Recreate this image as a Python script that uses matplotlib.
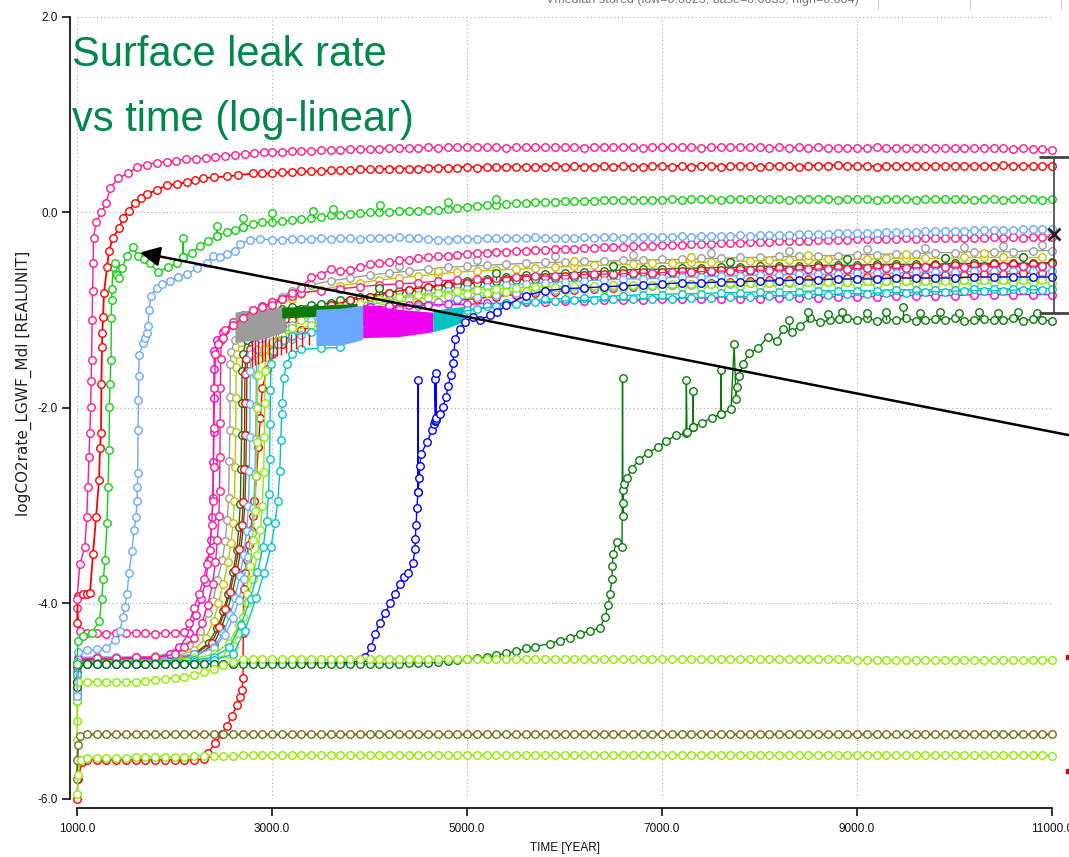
import matplotlib
matplotlib.use("Agg")
import matplotlib.pyplot as plt
from matplotlib.lines import Line2D

# ---------------------------------------------------------------- grids
YEARS_LATE = list(range(3000, 11001, 100))      # 100-year output steps
YEARS_BUNDLE = list(range(3400, 11001, 200))    # 200-year output steps
YEARS_BUNDLE_ODD = list(range(3300, 10901, 200))  # staggered 200-year steps

X_TICKS = [1000, 3000, 5000, 7000, 9000, 11000]
Y_TICKS = [-6.0, -4.0, -2.0, 0.0, 2.0]

# ---------------------------------------------------------------- upper realisations
pink_top_t = [1000, 1030, 1080, 1100, 1112, 1122, 1132, 1140, 1145, 1150, 1155, 1160, 1165, 1170,
              1195, 1250, 1300, 1340, 1420, 1520, 1620, 1720, 1820, 1920, 2020, 2120, 2220, 2320,
              2420, 2520, 2620, 2720, 2820, 2920]
pink_top_v = [-3.95, -3.6, -3.42, -3.12, -2.81, -2.5, -2.26, -1.99, -1.72, -1.51, -1.1, -0.8, -0.52, -0.26,
              -0.1, 0.0, 0.1, 0.25, 0.35, 0.4, 0.47, 0.49, 0.51, 0.52, 0.53, 0.55, 0.55, 0.56,
              0.57, 0.58, 0.59, 0.60, 0.61, 0.62]
pink_top_late = [0.62, 0.62, 0.63, 0.63, 0.63, 0.64, 0.64, 0.64, 0.65, 0.65,
                 0.65, 0.65, 0.66, 0.66, 0.66, 0.66, 0.67, 0.66, 0.67, 0.67,
                 0.67, 0.67, 0.67, 0.67, 0.66, 0.67, 0.67, 0.67, 0.67, 0.67,
                 0.67, 0.67, 0.66, 0.67, 0.67, 0.67, 0.67, 0.67, 0.66, 0.67,
                 0.67, 0.67, 0.67, 0.67, 0.66, 0.67, 0.67, 0.67, 0.67, 0.67,
                 0.67, 0.66, 0.67, 0.66, 0.67, 0.66, 0.67, 0.66, 0.66, 0.66,
                 0.66, 0.66, 0.67, 0.66, 0.66, 0.66, 0.66, 0.66, 0.66, 0.66,
                 0.66, 0.66, 0.66, 0.66, 0.66, 0.66, 0.65, 0.66, 0.65, 0.65,
                 0.64]

red_top_t = [1000, 1010, 1060, 1100, 1133, 1164, 1195, 1226, 1236, 1246,
             1250, 1256, 1260, 1267, 1277, 1308, 1328, 1369, 1431, 1472,
             1530, 1595, 1660, 1718, 1820, 1923, 2025, 2128, 2210, 2292,
             2400, 2538, 2650, 2805, 2900]
red_top_v = [-4.2, -3.92, -3.9, -3.9, -3.89, -3.49, -3.12, -2.74, -2.41, -2.26,
             -1.75, -1.38, -1.23, -1.07, -0.82, -0.56, -0.39, -0.26, -0.16, -0.06,
             0.02, 0.10, 0.15, 0.19, 0.23, 0.28, 0.29, 0.31, 0.33, 0.35,
             0.36, 0.37, 0.38, 0.40, 0.40]
red_top_late = [0.40, 0.41, 0.41, 0.42, 0.42, 0.42, 0.43, 0.43, 0.43, 0.44,
                0.44, 0.44, 0.45, 0.45, 0.45, 0.45, 0.46, 0.46, 0.46, 0.46,
                0.47, 0.46, 0.47, 0.47, 0.47, 0.47, 0.47, 0.47, 0.47, 0.48,
                0.47, 0.48, 0.47, 0.47, 0.48, 0.47, 0.48, 0.47, 0.47, 0.48,
                0.48, 0.47, 0.48, 0.47, 0.48, 0.48, 0.47, 0.48, 0.48, 0.48,
                0.47, 0.48, 0.48, 0.48, 0.47, 0.48, 0.48, 0.48, 0.49, 0.48,
                0.48, 0.48, 0.47, 0.48, 0.48, 0.48, 0.48, 0.48, 0.48, 0.48,
                0.48, 0.48, 0.48, 0.48, 0.48, 0.49, 0.48, 0.48, 0.48, 0.48,
                0.48]

green_t = [1000, 1010, 1060, 1150, 1230, 1252, 1270, 1287, 1308, 1318,
           1328, 1333, 1338, 1349, 1352, 1355, 1359, 1369, 1390, 1410,
           1431, 1462, 1513, 1574, 1626, 1690, 1749, 1831, 1933, 2026,
           2087, 2087, 2087, 2180, 2262, 2344, 2436, 2436, 2436, 2538,
           2620, 2703, 2703, 2703, 2800, 2900]
green_v = [-4.62, -4.38, -4.33, -4.30, -4.18, -3.95, -3.75, -3.56, -3.18, -2.81,
           -2.43, -1.99, -1.75, -1.51, -1.08, -0.90, -0.78, -0.56, -0.52, -0.64,
           -0.67, -0.57, -0.44, -0.35, -0.45, -0.48, -0.52, -0.61, -0.56, -0.52,
           -0.46, -0.26, -0.46, -0.41, -0.34, -0.29, -0.24, -0.14, -0.24, -0.20,
           -0.18, -0.15, -0.06, -0.15, -0.12, -0.10]
green_late = [-0.10, -0.09, -0.08, -0.07, -0.06, -0.05, -0.03, -0.03, -0.02, -0.01,
              0.00, 0.00, 0.01, 0.02, 0.02, 0.02, 0.03, 0.03, 0.04, 0.05,
              0.06, 0.07, 0.08, 0.08, 0.09, 0.10, 0.10, 0.11, 0.11, 0.11,
              0.12, 0.12, 0.12, 0.12, 0.13, 0.13, 0.13, 0.13, 0.13, 0.13,
              0.13, 0.14, 0.13, 0.14, 0.14, 0.14, 0.13, 0.14, 0.14, 0.14,
              0.14, 0.14, 0.14, 0.13, 0.14, 0.14, 0.14, 0.14, 0.13, 0.14,
              0.14, 0.14, 0.13, 0.14, 0.14, 0.14, 0.13, 0.14, 0.14, 0.14,
              0.14, 0.14, 0.13, 0.14, 0.14, 0.13, 0.14, 0.14, 0.14, 0.13,
              0.14]
green_spike_t = [3000, 3420, 3626, 4108, 4800, 5300]
green_spike_lo = [-0.10, -0.06, -0.03, 0.00, 0.05, 0.09]
green_spike_hi = [-0.01, 0.02, 0.04, 0.08, 0.11, 0.14]

sky_t = [1000, 1005, 1010, 1100, 1200, 1300, 1390, 1440, 1470, 1490,
         1513, 1533, 1564, 1585, 1605, 1615, 1620, 1623, 1626, 1630,
         1634, 1636, 1677, 1697, 1718, 1728, 1738, 1759, 1820, 1872,
         1954, 2036, 2128, 2231, 2333, 2395, 2466, 2538, 2620, 2672,
         2774, 2877]
sky_v = [-4.95, -4.60, -4.50, -4.48, -4.47, -4.46, -4.37, -4.28, -4.14, -4.04,
         -3.90, -3.69, -3.46, -3.25, -3.12, -2.95, -2.81, -2.67, -2.23, -1.92,
         -1.67, -1.46, -1.34, -1.28, -1.23, -1.16, -1.00, -0.85, -0.77, -0.73,
         -0.70, -0.66, -0.63, -0.57, -0.52, -0.44, -0.46, -0.42, -0.39, -0.32,
         -0.28, -0.27]
sky_late = [-0.28, -0.28, -0.27, -0.27, -0.27, -0.26, -0.27, -0.26, -0.26, -0.27,
            -0.26, -0.26, -0.26, -0.25, -0.26, -0.26, -0.27, -0.28, -0.28, -0.27,
            -0.27, -0.27, -0.26, -0.26, -0.26, -0.26, -0.26, -0.25, -0.26, -0.26,
            -0.26, -0.26, -0.25, -0.26, -0.25, -0.25, -0.26, -0.25, -0.25, -0.25,
            -0.25, -0.25, -0.24, -0.25, -0.24, -0.24, -0.24, -0.24, -0.23, -0.24,
            -0.23, -0.23, -0.23, -0.23, -0.22, -0.22, -0.22, -0.22, -0.21, -0.21,
            -0.21, -0.21, -0.21, -0.20, -0.20, -0.20, -0.20, -0.19, -0.19, -0.19,
            -0.19, -0.19, -0.18, -0.18, -0.18, -0.18, -0.18, -0.17, -0.17, -0.17,
            -0.17]

pink_mid_t = [1000, 1030, 1100, 1200, 1300, 1400, 1500, 1600, 1700, 1800,
              1900, 2000, 2100, 2150, 2200, 2250, 2300, 2330, 2360, 2380,
              2395, 2400, 2405, 2410, 2420, 2450, 2500, 2600, 2700, 2800,
              2900]
pink_mid_v = [-4.05, -4.28, -4.30, -4.30, -4.31, -4.30, -4.30, -4.30, -4.30, -4.31,
              -4.30, -4.30, -4.29, -4.20, -4.05, -3.90, -3.75, -3.60, -3.45, -3.20,
              -2.95, -2.60, -2.20, -1.80, -1.45, -1.35, -1.28, -1.15, -1.08, -1.00,
              -0.97]
pink_mid_late = [-0.95, -0.88, -0.82, -0.77, -0.66, -0.64, -0.58, -0.60, -0.59, -0.56,
                 -0.53, -0.52, -0.51, -0.49, -0.49, -0.47, -0.46, -0.45, -0.44, -0.43,
                 -0.42, -0.41, -0.41, -0.40, -0.40, -0.39, -0.39, -0.38, -0.38, -0.37,
                 -0.37, -0.37, -0.36, -0.36, -0.35, -0.35, -0.35, -0.34, -0.34, -0.34,
                 -0.33, -0.33, -0.33, -0.32, -0.32, -0.32, -0.31, -0.31, -0.31, -0.30,
                 -0.30, -0.30, -0.29, -0.29, -0.29, -0.29, -0.28, -0.28, -0.28, -0.28,
                 -0.27, -0.27, -0.27, -0.27, -0.27, -0.26, -0.27, -0.26, -0.26, -0.26,
                 -0.26, -0.26, -0.26, -0.26, -0.25, -0.26, -0.25, -0.26, -0.25, -0.25,
                 -0.25]

# ---------------------------------------------------------------- flat low realisations
lime_flat_t = [1000, 1010, 1100, 1200, 1300, 1400, 1500, 1600, 1700, 1800,
               1900, 2000, 2100, 2200, 2300, 2400, 2500, 2600, 2700, 2800, 2900]
lime_flat_v = [-5.00, -4.80, -4.80, -4.80, -4.80, -4.80, -4.80, -4.80, -4.79, -4.78,
               -4.77, -4.76, -4.75, -4.73, -4.70, -4.67, -4.63, -4.60, -4.57, -4.57, -4.57]
lime_flat_late = [-4.57, -4.57, -4.57, -4.57, -4.57, -4.57, -4.57, -4.57, -4.57, -4.57,
                  -4.57, -4.57, -4.57, -4.57, -4.57, -4.57, -4.57, -4.57, -4.57, -4.57,
                  -4.57, -4.57, -4.57, -4.57, -4.57, -4.57, -4.57, -4.57, -4.57, -4.57,
                  -4.57, -4.57, -4.57, -4.57, -4.57, -4.57, -4.57, -4.57, -4.57, -4.57,
                  -4.57, -4.57, -4.57, -4.57, -4.57, -4.57, -4.57, -4.57, -4.57, -4.57,
                  -4.57, -4.57, -4.57, -4.57, -4.57, -4.57, -4.57, -4.57, -4.57, -4.57,
                  -4.58, -4.58, -4.58, -4.58, -4.58, -4.58, -4.58, -4.58, -4.58, -4.58,
                  -4.58, -4.58, -4.58, -4.58, -4.58, -4.58, -4.58, -4.58, -4.58, -4.58,
                  -4.58]

olive_t = [1000, 1005, 1010, 1030, 1100, 1200, 1300, 1400, 1500, 1600, 1700, 1800,
           1900, 2000, 2100, 2200, 2300, 2400, 2500, 2600, 2700, 2800, 2900]
olive_v = [-5.80, -5.60, -5.45, -5.36, -5.34, -5.34, -5.34, -5.34, -5.34, -5.34, -5.34, -5.34,
           -5.34, -5.34, -5.34, -5.34, -5.34, -5.34, -5.34, -5.34, -5.34, -5.34, -5.34]
olive_late = [-5.34, -5.34, -5.34, -5.34, -5.34, -5.34, -5.34, -5.34, -5.34, -5.34,
              -5.34, -5.34, -5.34, -5.34, -5.34, -5.34, -5.34, -5.34, -5.34, -5.34,
              -5.34, -5.34, -5.34, -5.34, -5.34, -5.34, -5.34, -5.34, -5.34, -5.34,
              -5.34, -5.34, -5.34, -5.34, -5.34, -5.34, -5.34, -5.34, -5.34, -5.34,
              -5.34, -5.34, -5.34, -5.34, -5.34, -5.34, -5.34, -5.34, -5.34, -5.34,
              -5.34, -5.34, -5.34, -5.34, -5.34, -5.34, -5.34, -5.34, -5.34, -5.34,
              -5.34, -5.34, -5.34, -5.34, -5.34, -5.34, -5.34, -5.34, -5.34, -5.34,
              -5.34, -5.34, -5.34, -5.34, -5.34, -5.34, -5.34, -5.34, -5.34, -5.34,
              -5.34]

lime_low_t = [1000, 1010, 1040, 1100, 1200, 1300, 1400, 1500, 1600, 1700, 1800,
              1900, 2000, 2100, 2200, 2300, 2400, 2500, 2600, 2700, 2800, 2900]
lime_low_v = [-5.95, -5.75, -5.60, -5.58, -5.58, -5.58, -5.58, -5.58, -5.57, -5.57, -5.57,
              -5.57, -5.57, -5.57, -5.56, -5.56, -5.56, -5.56, -5.56, -5.55, -5.55, -5.55]
lime_low_late = [-5.55, -5.55, -5.55, -5.55, -5.55, -5.55, -5.55, -5.55, -5.55, -5.55,
                 -5.55, -5.55, -5.55, -5.55, -5.55, -5.55, -5.55, -5.55, -5.55, -5.55,
                 -5.55, -5.55, -5.55, -5.55, -5.55, -5.55, -5.55, -5.55, -5.55, -5.55,
                 -5.55, -5.55, -5.55, -5.55, -5.55, -5.55, -5.55, -5.55, -5.55, -5.55,
                 -5.55, -5.55, -5.55, -5.55, -5.55, -5.55, -5.55, -5.55, -5.55, -5.55,
                 -5.55, -5.55, -5.55, -5.55, -5.55, -5.55, -5.55, -5.55, -5.55, -5.55,
                 -5.55, -5.55, -5.55, -5.55, -5.55, -5.55, -5.55, -5.55, -5.55, -5.55,
                 -5.55, -5.55, -5.55, -5.55, -5.55, -5.55, -5.55, -5.55, -5.55, -5.55,
                 -5.56]

# ---------------------------------------------------------------- late risers
blue_t = [1000, 1010, 1100, 1200, 1300, 1400, 1500, 1600, 1700, 1800,
          1900, 2000, 2100, 2200, 2300, 2400, 2500, 2600, 2700, 2800,
          2900, 3000, 3100, 3200, 3300, 3400, 3500, 3600, 3700, 3800,
          3900,
          3953, 4015, 4057, 4108, 4159, 4210, 4262, 4313, 4354, 4395,
          4446, 4467, 4470, 4477, 4487, 4497, 4497, 4497, 4510, 4518,
          4528, 4590, 4641, 4665, 4672, 4672, 4680, 4680, 4680, 4723,
          4754, 4785, 4805, 4836, 4856, 4867, 4877, 4928, 4980, 5062,
          5133, 5236, 5308]
blue_v = [-4.80, -4.62, -4.62, -4.62, -4.62, -4.62, -4.62, -4.62, -4.62, -4.62,
          -4.62, -4.62, -4.62, -4.62, -4.62, -4.62, -4.62, -4.62, -4.61, -4.61,
          -4.61, -4.61, -4.61, -4.61, -4.61, -4.61, -4.61, -4.61, -4.61, -4.60,
          -4.59,
          -4.55, -4.45, -4.31, -4.20, -4.10, -4.00, -3.90, -3.80, -3.73, -3.69,
          -3.59, -3.44, -3.34, -3.20, -3.02, -2.86, -1.71, -2.86, -2.72, -2.59,
          -2.47, -2.35, -2.23, -2.16, -2.13, -1.70, -2.12, -1.64, -2.10, -2.06,
          -1.99, -1.89, -1.78, -1.66, -1.54, -1.44, -1.29, -1.19, -1.12, -1.07,
          -1.10, -1.05, -1.02]
blue_late_t = list(range(5400, 11001, 200))
blue_late = [-0.95, -0.85, -0.80, -0.78, -0.77, -0.76, -0.75, -0.74, -0.73, -0.72,
             -0.72, -0.71, -0.71, -0.70, -0.70, -0.69, -0.69, -0.68, -0.68, -0.68,
             -0.67, -0.67, -0.67, -0.67, -0.66, -0.66, -0.66, -0.66, -0.66]

forest_t = [1000, 1010, 1100, 1200, 1300, 1400, 1500, 1600, 1700, 1800,
            1900, 2000, 2100, 2200, 2300, 2400, 2500, 2600, 2700, 2800,
            2900, 3000, 3100, 3200, 3300, 3400, 3500, 3600, 3700, 3800,
            3900, 4000, 4100, 4200, 4300, 4400, 4500, 4600, 4700, 4800,
            4900, 5000,
            5100, 5200, 5300, 5400, 5500, 5600, 5700, 5851, 5954, 6056,
            6159, 6260, 6364, 6415, 6446, 6467, 6487, 6490, 6497, 6538,
            6590, 6595, 6600, 6602, 6605, 6612, 6641, 6692, 6764, 6856,
            6959, 7041, 7144, 7246, 7250, 7256, 7318, 7320, 7322, 7410,
            7513, 7605, 7607, 7609, 7708, 7740, 7759, 7770, 7790, 7831,
            7892, 7985, 8087, 8180, 8241, 8330, 8415, 8518, 8620, 8723,
            8820, 8897]
forest_v = [-4.85, -4.62, -4.62, -4.62, -4.62, -4.62, -4.62, -4.62, -4.62, -4.62,
            -4.62, -4.62, -4.62, -4.62, -4.62, -4.62, -4.62, -4.62, -4.62, -4.62,
            -4.62, -4.62, -4.62, -4.62, -4.62, -4.62, -4.62, -4.62, -4.62, -4.62,
            -4.62, -4.62, -4.62, -4.62, -4.62, -4.61, -4.61, -4.61, -4.60, -4.59,
            -4.58, -4.57,
            -4.56, -4.55, -4.53, -4.51, -4.49, -4.46, -4.44, -4.41, -4.38, -4.35,
            -4.31, -4.28, -4.25, -4.14, -4.02, -3.90, -3.75, -3.62, -3.49, -3.37,
            -3.42, -1.69, -3.10, -2.97, -2.84, -2.78, -2.72, -2.62, -2.53, -2.46,
            -2.40, -2.34, -2.28, -2.26, -1.71, -2.25, -2.19, -1.83, -2.19, -2.15,
            -2.10, -2.06, -1.61, -2.06, -2.01, -1.35, -1.91, -1.79, -1.67, -1.55,
            -1.44, -1.39, -1.27, -1.31, -1.19, -1.22, -1.16, -1.08, -1.12, -1.10,
            -1.09, -1.08]
forest_late_t = list(range(9000, 11001, 100))
forest_late = [-1.10, -1.08, -1.11, -1.09, -1.10, -1.08, -1.11, -1.10, -1.09, -1.10,
               -1.08, -1.11, -1.10, -1.09, -1.10, -1.10, -1.08, -1.11, -1.09, -1.10,
               -1.11]
forest_spike_t = [8300, 8500, 8700, 8850, 9100, 9300, 9470, 9650, 9850, 10050, 10250, 10450, 10650, 10850]
forest_spike_lo = [-1.20, -1.12, -1.10, -1.09, -1.09, -1.10, -1.10, -1.10, -1.10, -1.09, -1.10, -1.10, -1.09, -1.10]
forest_spike_hi = [-1.10, -1.02, -1.04, -1.02, -1.03, -1.02, -0.97, -1.03, -1.02, -1.03, -1.02, -1.03, -1.02, -1.03]

red_low_t = [1000, 1010, 1050, 1100, 1200, 1300, 1400, 1500, 1600, 1700,
             1800, 1900, 2000, 2100, 2200, 2300, 2344, 2415, 2487, 2538,
             2590, 2640, 2672, 2692, 2703, 2705, 2708, 2720, 2740, 2760,
             2780, 2800, 2820, 2840, 2860, 2880, 2900, 2950, 3000, 3100,
             3200]
red_low_v = [-6.00, -5.80, -5.62, -5.60, -5.60, -5.60, -5.60, -5.60, -5.60, -5.60,
             -5.60, -5.60, -5.60, -5.60, -5.60, -5.59, -5.53, -5.43, -5.33, -5.25,
             -5.15, -5.04, -4.96, -4.89, -4.76, -4.30, -3.85, -3.69, -3.55, -3.40,
             -3.25, -3.10, -2.95, -2.70, -2.40, -2.10, -1.80, -1.60, -1.45, -1.35,
             -1.25]
red_low_late = [-1.20, -1.15, -1.10, -1.05, -1.00, -0.97, -0.94, -0.92, -0.90, -0.88,
                -0.86, -0.84, -0.82, -0.81, -0.79, -0.78, -0.77, -0.76, -0.75, -0.74,
                -0.73, -0.72, -0.71, -0.70, -0.69, -0.69, -0.68, -0.67, -0.67, -0.66,
                -0.66, -0.65, -0.65, -0.64, -0.64, -0.63, -0.63, -0.62, -0.62]
# short excursions of the red realisation just after its rise
red_comb_t = [2790, 2830, 2860, 2900, 2930, 2970, 3010, 3050, 3090, 3140, 3190, 3250, 3310, 3380]
red_comb_lo = [-1.58, -1.56, -1.55, -1.53, -1.52, -1.50, -1.49, -1.47, -1.46, -1.44, -1.42, -1.40, -1.38, -1.36]
red_comb_hi = [-1.30, -1.29, -1.31, -1.28, -1.27, -1.29, -1.26, -1.27, -1.25, -1.26, -1.24, -1.25, -1.23, -1.24]

# ---------------------------------------------------------------- main bundle
magenta_t = [1000, 1010, 1200, 1400, 1600, 1800, 1950, 2050, 2150, 2220,
             2270, 2320, 2350, 2370, 2385, 2392, 2398, 2400, 2402, 2405,
             2410, 2440, 2500, 2600, 2700, 2800, 2900, 3000, 3100, 3200]
magenta_v = [-4.85, -4.58, -4.57, -4.57, -4.56, -4.56, -4.52, -4.45, -4.30, -4.12,
             -3.95, -3.78, -3.55, -3.35, -3.12, -2.92, -2.55, -2.25, -1.90, -1.60,
             -1.42, -1.30, -1.22, -1.15, -1.12, -1.10, -1.07, -1.05, -1.03, -1.02]
magenta_late = [-1.00, -0.99, -0.98, -0.97, -0.96, -0.95, -0.95, -0.94, -0.94, -0.93,
                -0.93, -0.92, -0.92, -0.91, -0.91, -0.90, -0.90, -0.90, -0.89, -0.89,
                -0.89, -0.88, -0.88, -0.88, -0.87, -0.87, -0.87, -0.86, -0.86, -0.86,
                -0.85, -0.85, -0.85, -0.85, -0.84, -0.84, -0.84, -0.84, -0.84]

rose_t = [1000, 1010, 1200, 1400, 1600, 1800, 2000, 2100, 2200, 2280,
          2340, 2390, 2420, 2440, 2455, 2462, 2466, 2468, 2470, 2474,
          2480, 2520, 2600, 2700, 2800, 2900, 3000, 3100, 3200]
rose_v = [-4.70, -4.57, -4.56, -4.56, -4.55, -4.55, -4.52, -4.45, -4.35, -4.20,
          -4.02, -3.80, -3.58, -3.35, -3.10, -2.85, -2.50, -2.15, -1.80, -1.50,
          -1.30, -1.20, -1.12, -1.05, -1.00, -0.96, -0.92, -0.88, -0.85]
rose_late = [-0.82, -0.80, -0.78, -0.76, -0.74, -0.73, -0.72, -0.70, -0.69, -0.68,
             -0.67, -0.66, -0.65, -0.65, -0.64, -0.63, -0.63, -0.62, -0.62, -0.61,
             -0.61, -0.60, -0.60, -0.59, -0.59, -0.59, -0.58, -0.58, -0.58, -0.57,
             -0.57, -0.57, -0.56, -0.56, -0.56, -0.56, -0.55, -0.55, -0.55]

gray_t = [1000, 1010, 1200, 1400, 1600, 1800, 2000, 2150, 2262, 2344,
          2395, 2440, 2490, 2520, 2540, 2555, 2562, 2568, 2570, 2572,
          2580, 2620, 2700, 2800, 2900, 3000, 3100, 3200]
gray_v = [-4.90, -4.56, -4.55, -4.55, -4.55, -4.54, -4.50, -4.42, -4.28, -4.10,
          -3.97, -3.76, -3.56, -3.36, -3.15, -2.92, -2.54, -2.23, -1.89, -1.55,
          -1.43, -1.30, -1.20, -1.10, -1.00, -0.92, -0.86, -0.80]
gray_late = [-0.74, -0.70, -0.67, -0.64, -0.62, -0.60, -0.58, -0.56, -0.55, -0.54,
             -0.53, -0.52, -0.51, -0.51, -0.50, -0.50, -0.49, -0.49, -0.48, -0.48,
             -0.47, -0.47, -0.46, -0.46, -0.45, -0.45, -0.44, -0.44, -0.43, -0.43,
             -0.42, -0.42, -0.41, -0.41, -0.40, -0.40, -0.40, -0.39, -0.39]
gray_spike_t = [4300, 5100, 5900, 6700, 7500, 8300, 9100, 9700, 10100, 10500, 10900]
gray_spike_lo = [-0.61, -0.55, -0.51, -0.49, -0.47, -0.45, -0.43, -0.42, -0.41, -0.40, -0.39]
gray_spike_hi = [-0.55, -0.49, -0.45, -0.43, -0.41, -0.39, -0.37, -0.36, -0.35, -0.34, -0.33]

mustard_t = [1000, 1010, 1200, 1400, 1600, 1800, 2000, 2200, 2320, 2400,
             2450, 2500, 2550, 2580, 2600, 2615, 2622, 2628, 2630, 2633,
             2640, 2680, 2750, 2850, 2950, 3050, 3200]
mustard_v = [-4.75, -4.56, -4.55, -4.55, -4.55, -4.55, -4.54, -4.48, -4.35, -4.18,
             -4.00, -3.80, -3.58, -3.38, -3.18, -2.95, -2.60, -2.25, -1.90, -1.58,
             -1.45, -1.32, -1.22, -1.12, -1.02, -0.95, -0.88]
mustard_late = [-0.83, -0.79, -0.75, -0.72, -0.69, -0.67, -0.65, -0.63, -0.61, -0.60,
                -0.59, -0.58, -0.57, -0.56, -0.55, -0.54, -0.54, -0.53, -0.52, -0.52,
                -0.51, -0.51, -0.50, -0.50, -0.49, -0.49, -0.49, -0.48, -0.48, -0.48,
                -0.47, -0.47, -0.47, -0.47, -0.46, -0.46, -0.46, -0.46, -0.46]
mustard_spike_t = [4700, 6100, 7300, 8500, 9500, 10300]
mustard_spike_lo = [-0.66, -0.56, -0.52, -0.49, -0.48, -0.47]
mustard_spike_hi = [-0.60, -0.50, -0.46, -0.43, -0.42, -0.41]

dkgreen_a_t = [1000, 1010, 1200, 1400, 1600, 1800, 2000, 2200, 2350, 2440,
               2500, 2550, 2600, 2640, 2660, 2675, 2682, 2688, 2690, 2693,
               2700, 2740, 2800, 2900, 3000, 3100, 3200]
dkgreen_a_v = [-4.65, -4.60, -4.60, -4.60, -4.60, -4.59, -4.58, -4.52, -4.40, -4.25,
               -4.08, -3.90, -3.68, -3.45, -3.22, -2.98, -2.62, -2.28, -1.95, -1.62,
               -1.45, -1.30, -1.18, -1.08, -1.02, -0.99, -0.97]
dkgreen_a_late = [-0.95, -0.93, -0.90, -0.86, -0.82, -0.79, -0.76, -0.73, -0.70, -0.68,
                  -0.66, -0.64, -0.63, -0.62, -0.61, -0.60, -0.59, -0.58, -0.58, -0.57,
                  -0.57, -0.56, -0.56, -0.55, -0.55, -0.55, -0.54, -0.54, -0.54, -0.53,
                  -0.53, -0.53, -0.53, -0.52, -0.52, -0.52, -0.52, -0.52, -0.51]
dkgreen_spike_t = [4100, 5300, 6500, 7700, 8900, 9900, 10700]
dkgreen_spike_lo = [-0.84, -0.69, -0.61, -0.57, -0.54, -0.53, -0.52]
dkgreen_spike_hi = [-0.77, -0.62, -0.55, -0.51, -0.48, -0.47, -0.46]

dkgreen_b_t = [1000, 1010, 1200, 1400, 1600, 1800, 2000, 2200, 2400, 2480,
               2540, 2590, 2640, 2680, 2705, 2722, 2732, 2737, 2740, 2743,
               2750, 2790, 2850, 2950, 3050, 3200]
dkgreen_b_v = [-4.80, -4.60, -4.60, -4.60, -4.59, -4.59, -4.58, -4.55, -4.42, -4.25,
               -4.08, -3.90, -3.68, -3.45, -3.22, -2.98, -2.62, -2.28, -1.95, -1.62,
               -1.48, -1.36, -1.28, -1.20, -1.12, -1.05]
dkgreen_b_late = [-0.99, -0.94, -0.90, -0.86, -0.83, -0.80, -0.78, -0.76, -0.74, -0.72,
                  -0.70, -0.69, -0.68, -0.67, -0.66, -0.65, -0.64, -0.63, -0.63, -0.62,
                  -0.61, -0.61, -0.60, -0.60, -0.59, -0.59, -0.58, -0.58, -0.58, -0.57,
                  -0.57, -0.57, -0.56, -0.56, -0.56, -0.55, -0.55, -0.55, -0.55]

red_mid_t = [1000, 1010, 1200, 1400, 1600, 1800, 2000, 2200, 2380, 2460,
             2520, 2570, 2620, 2660, 2690, 2705, 2713, 2718, 2720, 2722,
             2730, 2770, 2830, 2900, 3000, 3100, 3200]
red_mid_v = [-4.95, -4.58, -4.58, -4.58, -4.57, -4.57, -4.56, -4.53, -4.40, -4.24,
             -4.06, -3.88, -3.66, -3.44, -3.20, -2.96, -2.62, -2.28, -1.95, -1.65,
             -1.50, -1.40, -1.33, -1.28, -1.22, -1.16, -1.10]
red_mid_late = [-1.02, -0.95, -0.90, -0.86, -0.82, -0.79, -0.76, -0.74, -0.72, -0.70,
                -0.68, -0.67, -0.66, -0.65, -0.64, -0.63, -0.62, -0.61, -0.61, -0.60,
                -0.59, -0.59, -0.58, -0.58, -0.57, -0.57, -0.56, -0.56, -0.56, -0.55,
                -0.55, -0.55, -0.54, -0.54, -0.54, -0.53, -0.53, -0.53, -0.52]

sky_b_t = [1000, 1010, 1200, 1400, 1600, 1800, 2000, 2200, 2400, 2500,
           2570, 2620, 2670, 2710, 2740, 2758, 2768, 2772, 2775, 2778,
           2785, 2830, 2900, 3000, 3100, 3200]
sky_b_v = [-4.90, -4.57, -4.57, -4.57, -4.57, -4.56, -4.56, -4.54, -4.45, -4.30,
           -4.12, -3.94, -3.72, -3.50, -3.26, -3.00, -2.64, -2.30, -1.96, -1.62,
           -1.45, -1.35, -1.30, -1.25, -1.20, -1.15]
sky_b_late = [-1.10, -1.05, -1.00, -0.95, -0.90, -0.86, -0.83, -0.80, -0.78, -0.76,
              -0.74, -0.73, -0.72, -0.71, -0.70, -0.69, -0.68, -0.68, -0.67, -0.66,
              -0.66, -0.65, -0.65, -0.64, -0.64, -0.63, -0.63, -0.63, -0.62, -0.62,
              -0.62, -0.61, -0.61, -0.61, -0.60, -0.60, -0.60, -0.60, -0.60]

sky_c_t = [1000, 1010, 1200, 1400, 1600, 1800, 2000, 2200, 2400, 2520,
           2600, 2660, 2710, 2750, 2790, 2810, 2825, 2832, 2836, 2840,
           2845, 2860, 2900, 3000, 3100, 3200]
sky_c_v = [-5.00, -4.55, -4.55, -4.55, -4.55, -4.55, -4.54, -4.52, -4.46, -4.32,
           -4.15, -3.96, -3.75, -3.52, -3.28, -3.02, -2.68, -2.32, -1.98, -1.66,
           -1.48, -1.40, -1.36, -1.33, -1.31, -1.29]
sky_c_late = [-1.25, -1.20, -1.15, -1.10, -1.05, -1.00, -0.96, -0.92, -0.89, -0.86,
              -0.84, -0.82, -0.80, -0.79, -0.78, -0.77, -0.76, -0.75, -0.75, -0.74,
              -0.74, -0.73, -0.73, -0.72, -0.72, -0.72, -0.71, -0.71, -0.71, -0.70,
              -0.70, -0.70, -0.70, -0.69, -0.69, -0.69, -0.69, -0.69, -0.68]

lime_a_t = [1000, 1010, 1200, 1400, 1600, 1800, 2000, 2200, 2400, 2560,
            2660, 2740, 2800, 2850, 2880, 2900, 2915, 2922, 2926, 2930,
            2935, 2950, 3000, 3100, 3200]
lime_a_v = [-5.20, -4.58, -4.58, -4.58, -4.58, -4.58, -4.57, -4.56, -4.52, -4.40,
            -4.22, -4.00, -3.75, -3.50, -3.25, -3.00, -2.65, -2.30, -1.95, -1.62,
            -1.48, -1.40, -1.33, -1.27, -1.22]
lime_a_late = [-1.15, -1.08, -1.02, -0.97, -0.93, -0.90, -0.87, -0.85, -0.83, -0.82,
               -0.81, -0.80, -0.79, -0.79, -0.78, -0.78, -0.77, -0.77, -0.77, -0.76,
               -0.76, -0.76, -0.75, -0.75, -0.75, -0.75, -0.74, -0.74, -0.74, -0.74,
               -0.73, -0.73, -0.73, -0.73, -0.73, -0.72, -0.72, -0.72, -0.72]

lime_b_t = [1000, 1010, 1200, 1400, 1600, 1800, 2000, 2200, 2400, 2550,
            2610, 2650, 2700, 2740, 2770, 2800, 2825, 2838, 2845, 2850,
            2856, 2870, 2920, 3000, 3100, 3200]
lime_b_v = [-5.40, -4.60, -4.60, -4.60, -4.60, -4.60, -4.59, -4.58, -4.57, -4.52,
            -4.43, -4.30, -4.14, -3.90, -3.62, -3.35, -3.05, -2.70, -2.35, -2.00,
            -1.66, -1.50, -1.40, -1.32, -1.25, -1.18]
lime_b_late = [-1.10, -1.03, -0.97, -0.93, -0.89, -0.86, -0.84, -0.82, -0.80, -0.79,
               -0.78, -0.77, -0.76, -0.76, -0.75, -0.75, -0.74, -0.74, -0.74, -0.73,
               -0.73, -0.73, -0.72, -0.72, -0.72, -0.71, -0.71, -0.71, -0.71, -0.70,
               -0.70, -0.70, -0.70, -0.70, -0.69, -0.69, -0.69, -0.69, -0.69]

cyan_a_t = [1000, 1010, 1200, 1400, 1600, 1800, 2000, 2200, 2400, 2600,
            2720, 2840, 2920, 2990, 3030, 3060, 3080, 3090, 3100, 3105,
            3120, 3150, 3200]
cyan_a_v = [-5.00, -4.62, -4.62, -4.62, -4.62, -4.62, -4.61, -4.60, -4.58, -4.52,
            -4.28, -3.94, -3.69, -3.42, -3.18, -2.95, -2.64, -2.33, -2.06, -1.95,
            -1.69, -1.55, -1.45]
cyan_a_late = [-1.40, -1.39, -1.38, -1.10, -1.10, -1.09, -1.08, -1.05, -1.02, -0.99,
               -0.96, -0.94, -0.92, -0.91, -0.90, -0.90, -0.89, -0.89, -0.88, -0.88,
               -0.87, -0.87, -0.86, -0.86, -0.85, -0.85, -0.84, -0.84, -0.83, -0.83,
               -0.82, -0.82, -0.81, -0.81, -0.80, -0.80, -0.80, -0.79, -0.79]

cyan_b_t = [1000, 1010, 1200, 1400, 1600, 1800, 2000, 2200, 2400, 2560,
            2680, 2780, 2850, 2910, 2945, 2965, 2975, 2980, 2984, 2990,
            3010, 3060, 3120, 3200]
cyan_b_v = [-4.72, -4.61, -4.61, -4.61, -4.61, -4.61, -4.60, -4.58, -4.55, -4.45,
            -4.22, -3.95, -3.68, -3.42, -3.16, -2.88, -2.52, -2.16, -1.82, -1.55,
            -1.42, -1.35, -1.30, -1.26]
cyan_b_late = [-1.22, -1.19, -1.16, -1.13, -1.11, -1.09, -1.07, -1.05, -1.00, -0.96,
               -0.93, -0.91, -0.89, -0.88, -0.87, -0.86, -0.85, -0.84, -0.84, -0.83,
               -0.83, -0.82, -0.82, -0.81, -0.81, -0.81, -0.80, -0.80, -0.80, -0.80,
               -0.79, -0.79, -0.79, -0.79, -0.78, -0.78, -0.78, -0.78, -0.78]

# rapid oscillation envelopes (years, lower, upper)
gray_band = ([2620, 2880, 3140], [-1.33, -1.30, -1.22], [-1.02, -0.98, -0.96])
dkgreen_band = ([3100, 3500, 3870], [-1.08, -1.06, -1.03], [-0.97, -0.95, -0.93])
sky_band = ([3450, 3700, 3930], [-1.36, -1.36, -1.30], [-0.99, -0.98, -0.95])
magenta_band = ([3930, 4300, 4650], [-1.28, -1.27, -1.22], [-0.94, -0.99, -1.02])
cyan_band = ([4650, 4800, 4960], [-1.22, -1.18, -1.12], [-1.00, -0.98, -0.96])

# spread of the ensemble at the final time
ERR_YEAR = 11020
ERR_MID, ERR_LOW, ERR_HIGH = -0.22, -1.03, 0.57
EDGE_MARKS = [-4.55, -5.71]
ARROW_FROM = (11185, -2.28)
ARROW_TO = (1646, -0.41)

# ---------------------------------------------------------------- colours
C_PINK = "#ff1a8c"
C_RED = "#ff0000"
C_GREEN = "#10d010"
C_SKY = "#6aa8ff"
C_LIME = "#8eea00"
C_OLIVE = "#707018"
C_BLUE = "#0000ff"
C_DKGREEN = "#0a7a0a"
C_MAGENTA = "#f000f0"
C_GRAY = "#9c9c9c"
C_MUSTARD = "#c8c000"
C_CYAN = "#00c4c4"

plt.rcParams["font.family"] = ["Liberation Sans", "DejaVu Sans"]

fig = plt.figure(figsize=(10.69, 8.57), dpi=100)
ax = fig.add_axes([0.07203, 0.06768, 0.91207, 0.91249])

MS = 5.4


def series(t, v, color, z, lw=1.0):
    n = min(len(t), len(v))
    ax.plot(t[:n], v[:n], color=color, lw=lw, marker="o", ms=MS, mfc="white",
            mec=color, mew=1.0, zorder=z, clip_on=False)


def stems(ts, lo, hi, color, z, heads=True):
    ax.vlines(ts, lo, hi, color=color, lw=1.0, zorder=z)
    if heads:
        ax.plot(ts, hi, ls="none", marker="o", ms=MS, mfc="white", mec=color,
                mew=1.0, zorder=z)


def band(b, color, z, alpha=1.0):
    ax.fill_between(b[0], b[1], b[2], color=color, lw=0, zorder=z, alpha=alpha)


# bundle realisations; every other one is reported on the staggered grid
bundle = [
    (gray_t, gray_v, gray_late, C_GRAY, YEARS_BUNDLE),
    (mustard_t, mustard_v, mustard_late, C_MUSTARD, YEARS_BUNDLE_ODD),
    (dkgreen_a_t, dkgreen_a_v, dkgreen_a_late, C_DKGREEN, YEARS_BUNDLE),
    (dkgreen_b_t, dkgreen_b_v, dkgreen_b_late, C_DKGREEN, YEARS_BUNDLE_ODD),
    (red_mid_t, red_mid_v, red_mid_late, C_RED, YEARS_BUNDLE),
    (red_low_t, red_low_v, red_low_late, C_RED, YEARS_BUNDLE_ODD),
    (sky_b_t, sky_b_v, sky_b_late, C_SKY, YEARS_BUNDLE),
    (sky_c_t, sky_c_v, sky_c_late, C_SKY, YEARS_BUNDLE_ODD),
    (lime_a_t, lime_a_v, lime_a_late, C_LIME, YEARS_BUNDLE),
    (lime_b_t, lime_b_v, lime_b_late, C_LIME, YEARS_BUNDLE_ODD),
    (magenta_t, magenta_v, magenta_late, C_MAGENTA, YEARS_BUNDLE),
    (rose_t, rose_v, rose_late, C_PINK, YEARS_BUNDLE_ODD),
    (cyan_b_t, cyan_b_v, cyan_b_late, C_CYAN, YEARS_BUNDLE),
    (cyan_a_t, cyan_a_v, cyan_a_late, C_CYAN, YEARS_BUNDLE_ODD),
]
for t, v, late, col, grid in bundle:
    series(t + grid, v + late, col, 2)

stems(red_comb_t, red_comb_lo, red_comb_hi, C_RED, 2.4, heads=False)
band(gray_band, C_GRAY, 2.5)
band(dkgreen_band, C_DKGREEN, 2.5)
band(sky_band, C_SKY, 2.5)
band(magenta_band, C_MAGENTA, 2.5)
band(cyan_band, C_CYAN, 2.5)
stems(gray_spike_t, gray_spike_lo, gray_spike_hi, C_GRAY, 2.6)
stems(mustard_spike_t, mustard_spike_lo, mustard_spike_hi, C_MUSTARD, 2.6)
stems(dkgreen_spike_t, dkgreen_spike_lo, dkgreen_spike_hi, C_DKGREEN, 2.6)

# individually visible realisations
series(blue_t + blue_late_t, blue_v + blue_late, C_BLUE, 3)
series(forest_t + forest_late_t, forest_v + forest_late, C_DKGREEN, 3)
stems(forest_spike_t, forest_spike_lo, forest_spike_hi, C_DKGREEN, 3)
series(lime_flat_t + YEARS_LATE, lime_flat_v + lime_flat_late, C_LIME, 3.1)
series(olive_t + YEARS_LATE, olive_v + olive_late, C_OLIVE, 3.1, lw=1.6)
series(lime_low_t + YEARS_LATE, lime_low_v + lime_low_late, C_LIME, 3.1)
series(pink_mid_t + YEARS_LATE, pink_mid_v + pink_mid_late, C_PINK, 3.2)
series(sky_t + YEARS_LATE, sky_v + sky_late, C_SKY, 3.3)
series(green_t + YEARS_LATE, green_v + green_late, C_GREEN, 3.4)
stems(green_spike_t, green_spike_lo, green_spike_hi, C_GREEN, 3.4)
series(red_top_t + YEARS_LATE, red_top_v + red_top_late, C_RED, 3.5, lw=1.3)
series(pink_top_t + YEARS_LATE, pink_top_v + pink_top_late, C_PINK, 3.6)

# ensemble spread bar at the right edge
eb = ax.errorbar([ERR_YEAR], [ERR_MID],
                 yerr=[[ERR_MID - ERR_LOW], [ERR_HIGH - ERR_MID]],
                 fmt="x", color="#222222", ecolor="#444444", elinewidth=1.2,
                 capsize=11, capthick=1.3, ms=9, mew=2.0, zorder=6)
for art in eb.lines[0:1] + tuple(eb.lines[1]) + tuple(eb.lines[2]):
    art.set_clip_on(False)
ax.plot([11160] * len(EDGE_MARKS), EDGE_MARKS, ls="none", marker="s", ms=3,
        color="#dd0000", clip_on=False, zorder=6)

ax.annotate("", xy=ARROW_TO, xytext=ARROW_FROM, annotation_clip=False,
            arrowprops=dict(arrowstyle="-|>,head_length=0.6,head_width=0.3",
                            mutation_scale=20, color="black", lw=1.8,
                            shrinkA=0, shrinkB=0), zorder=7)

# axes styling
ax.set_xlim(1000, 11000)
ax.set_ylim(-6.0, 2.0)
ax.set_xticks(X_TICKS)
ax.set_yticks(Y_TICKS)
ax.set_xticklabels([f"{x:.1f}" for x in X_TICKS])
ax.set_yticklabels([f"{y:.1f}" for y in Y_TICKS])
ax.set_axisbelow(True)
ax.grid(True, color="#aaaaaa", linestyle=(0, (1, 2.5)), linewidth=0.8)
for side in ("top", "right"):
    ax.spines[side].set_visible(False)
ax.spines["left"].set_position(("outward", 5))
ax.spines["bottom"].set_position(("outward", 6.5))
for side in ("left", "bottom"):
    ax.spines[side].set_linewidth(1.2)
ax.tick_params(axis="y", length=6, width=1.2, pad=3, labelsize=8.5, colors="#111111")
ax.tick_params(axis="x", length=6, width=1.2, pad=4.5, labelsize=8.5, colors="#111111")

ax.set_xlabel("TIME [YEAR]", fontsize=8.5, color="#111111")
ax.xaxis.set_label_coords(0.5, -0.055)
ax.set_ylabel("logCO2rate_LGWF_Mdl [REALUNIT]", fontsize=11, color="#222222",
              family=["DejaVu Sans"])
ax.yaxis.set_label_coords(-0.046, 0.532)

# headline
title_font = ["Liberation Sans"]
fig.text(72 / 1069, 1 - 66 / 857, "Surface leak rate", fontsize=30, color="#00874a",
         family=title_font, ha="left", va="baseline")
fig.text(72 / 1069, 1 - 131 / 857, "vs time (log-linear)", fontsize=30, color="#00874a",
         family=title_font, ha="left", va="baseline")

# caption strip cut by the top edge
fig.text(0.657, 0.9995, "Vmedian stored (low=0.0025, base=0.0035, high=0.004)",
         fontsize=9, color="#777777", ha="center", va="center")
for xp in (878, 970, 1061):
    fig.add_artist(Line2D([xp / 1069] * 2, [1.0, 1 - 9 / 857], color="#cccccc", lw=0.8))

fig.savefig("out.png", dpi=100)
